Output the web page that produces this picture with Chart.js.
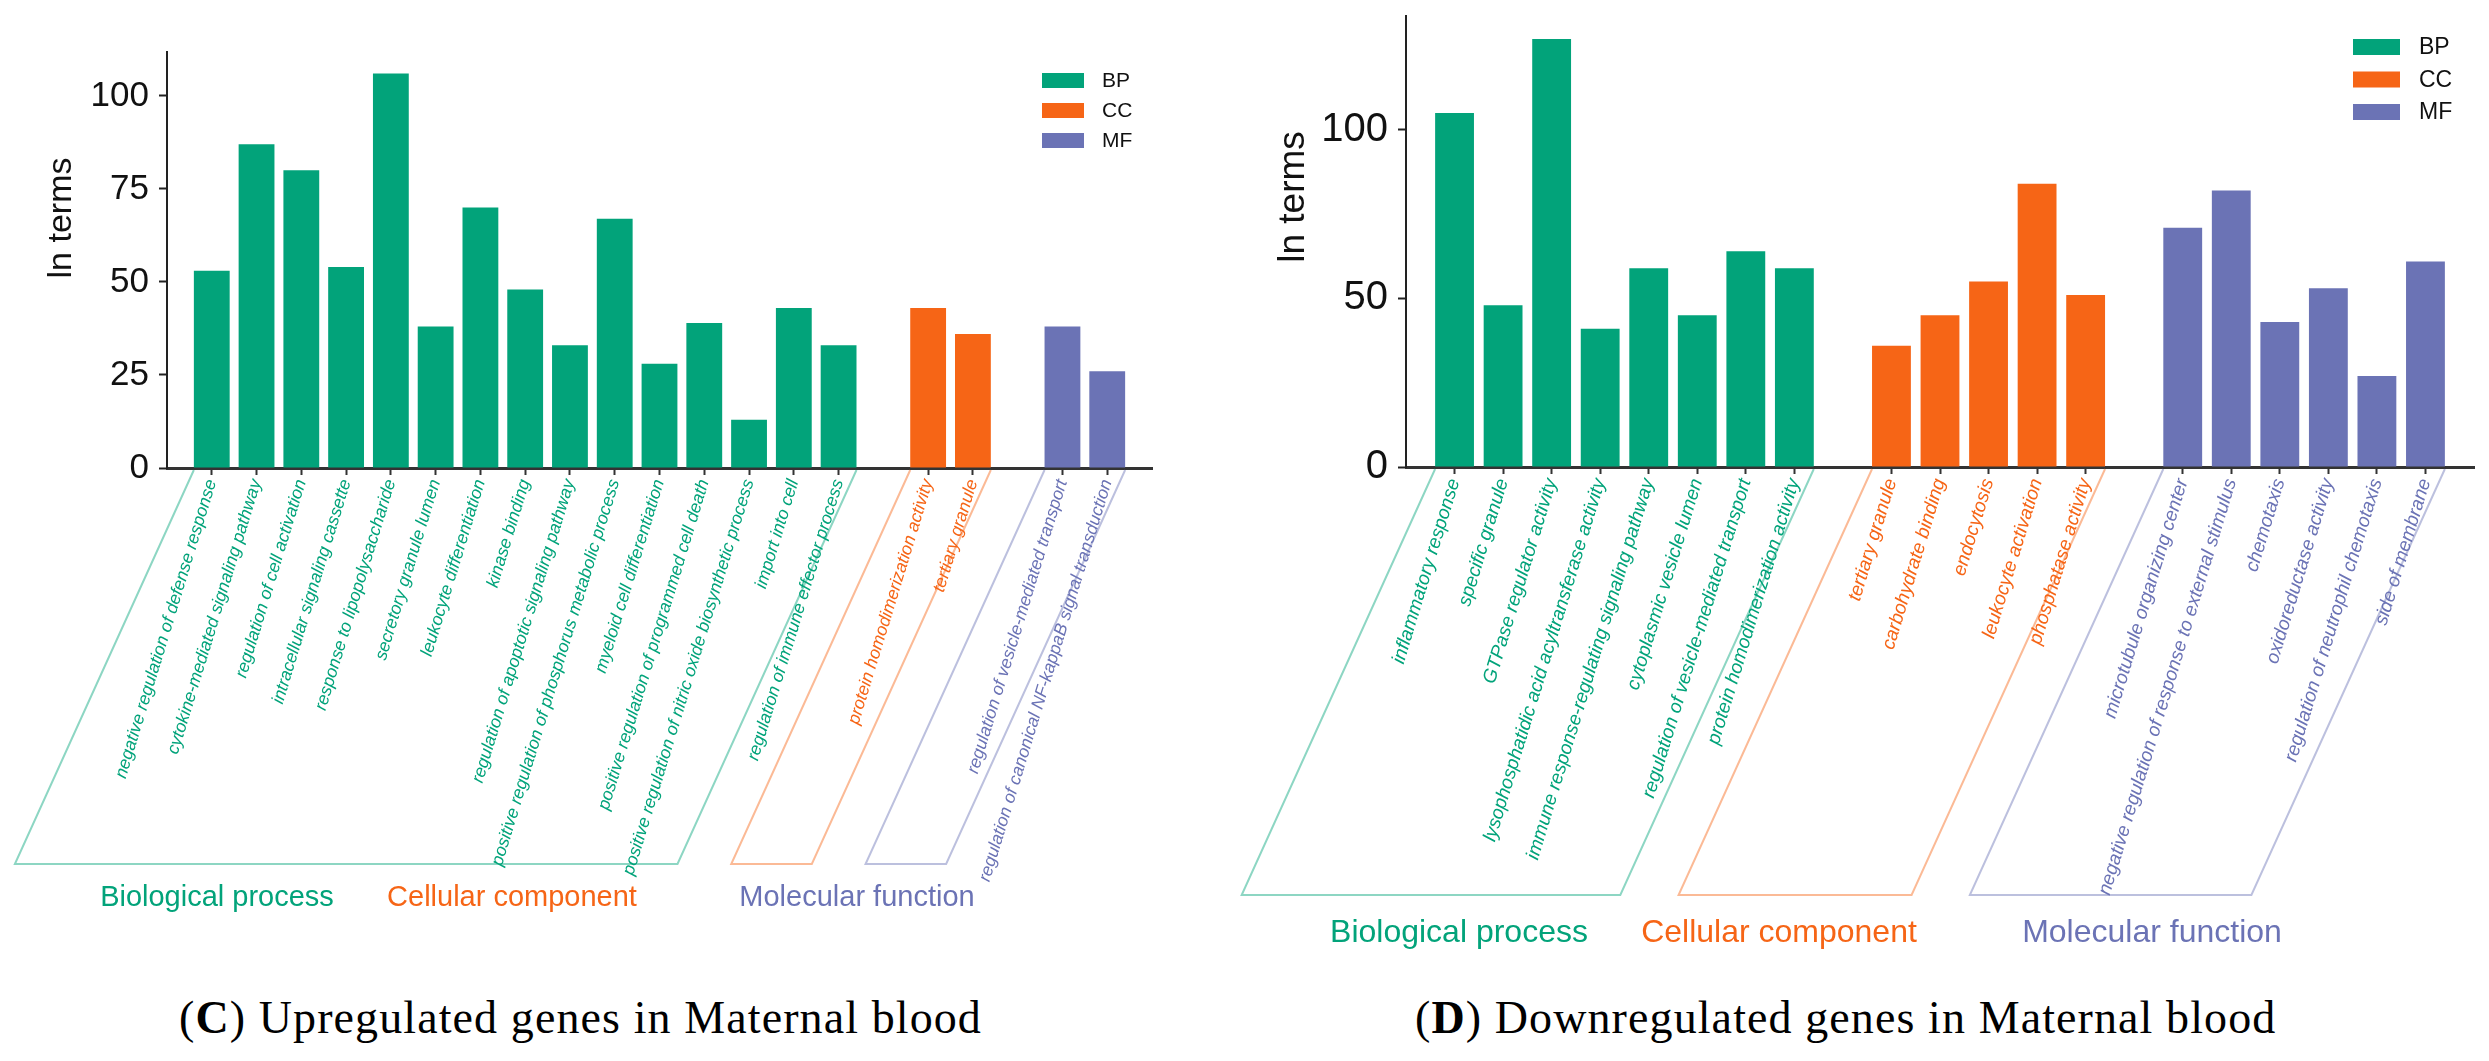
<!DOCTYPE html>
<html>
<head>
<meta charset="utf-8">
<script src="https://cdn.jsdelivr.net/npm/chart.js@4.4.0/dist/chart.umd.min.js"></script>
<style>
  body { margin: 0; background: #fff; width: 2489px; height: 1061px; overflow: hidden; position: relative; }
  #chartC { position: absolute; left: 0; top: 0; }
  #chartD { position: absolute; left: 1240px; top: 0; }
  .cap { position: absolute; top: 995px; font-family: "Liberation Serif", "Times New Roman", serif; font-size: 46px; line-height: 46px; letter-spacing: 1.1px; color: #000; white-space: nowrap; }
</style>
</head>
<body>
<canvas id="chartC" width="1240" height="960"></canvas>
<canvas id="chartD" width="1249" height="960"></canvas>
<div class="cap" style="left:179px">(<b>C</b>) Upregulated genes in Maternal blood</div>
<div class="cap" style="left:1415px">(<b>D</b>) Downregulated genes in Maternal blood</div>
<script>
// (C) upregulated genes
const upBPTerms = [
    'negative regulation of defense response',
    'cytokine-mediated signaling pathway',
    'regulation of cell activation',
    'intracellular signaling cassette',
    'response to lipopolysaccharide',
    'secretory granule lumen',
    'leukocyte differentiation',
    'kinase binding',
    'regulation of apoptotic signaling pathway',
    'positive regulation of phosphorus metabolic process',
    'myeloid cell differentiation',
    'positive regulation of programmed cell death',
    'positive regulation of nitric oxide biosynthetic process',
    'import into cell',
    'regulation of immune effector process'
];
const upBPCounts = [53, 87, 80, 54, 106, 38, 70, 48, 33, 67, 28, 39, 13, 43, 33];
const upCCTerms = ['protein homodimerization activity', 'tertiary granule'];
const upCCCounts = [43, 36];
const upMFTerms = ['regulation of vesicle-mediated transport', 'regulation of canonical NF-kappaB signal transduction'];
const upMFCounts = [38, 26];
const upYTicks = [0, 25, 50, 75, 100];

// (D) downregulated genes
const downBPTerms = [
    'inflammatory response',
    'specific granule',
    'GTPase regulator activity',
    'lysophosphatidic acid acyltransferase activity',
    'immune response-regulating signaling pathway',
    'cytoplasmic vesicle lumen',
    'regulation of vesicle-mediated transport',
    'protein homodimerization activity'
];
const downBPCounts = [105, 48, 127, 41, 59, 45, 64, 59];
const downCCTerms = ['tertiary granule', 'carbohydrate binding', 'endocytosis', 'leukocyte activation', 'phosphatase activity'];
const downCCCounts = [36, 45, 55, 84, 51];
const downMFTerms = [
    'microtubule organizing center',
    'negative regulation of response to external stimulus',
    'chemotaxis',
    'oxidoreductase activity',
    'regulation of neutrophil chemotaxis',
    'side of membrane'
];
const downMFCounts = [71, 82, 43, 53, 27, 61];
const downYTicks = [0, 50, 100];

const groupNames = ['BP', 'CC', 'MF'];
const groupTitles = ['Biological process', 'Cellular component', 'Molecular function'];
const colors = ['#02a37a', '#f66516', '#6b73b5'];
const bracketColors = ['rgba(2,163,122,0.45)', 'rgba(246,101,22,0.45)', 'rgba(107,115,181,0.45)'];

Chart.defaults.font.family = '"Liberation Sans", Arial, sans-serif';
Chart.defaults.color = '#111';

// one empty slot before, between and after the groups
function buildPanel(groups) {
    const labels = [''];
    const owner = [-1];
    const data = groups.map(() => [null]);
    groups.forEach((g, gi) => {
        g.terms.forEach((t, k) => {
            labels.push(t);
            owner.push(gi);
            data.forEach((d, di) => d.push(di === gi ? g.counts[k] : null));
        });
        labels.push('');
        owner.push(-1);
        data.forEach(d => d.push(null));
    });
    return { labels, owner, data };
}

const decor = {
    id: 'decor',
    afterDraw(chart, args, o) {
        const { ctx, chartArea } = chart;
        ctx.save();
        chart.data.datasets.forEach((ds, i) => {
            const bars = chart.getDatasetMeta(i).data.filter((b, k) => ds.data[k] !== null);
            const first = bars[0], last = bars[bars.length - 1];
            const x0 = first.x - first.width / 2;
            const x1 = last.x + last.width / 2;
            const y0 = chartArea.bottom + 2;
            const y1 = chartArea.bottom + o.depth;
            const dx = o.depth * 0.452;
            ctx.beginPath();
            ctx.moveTo(x0, y0);
            ctx.lineTo(x0 - dx, y1);
            ctx.lineTo(x1 - dx, y1);
            ctx.lineTo(x1, y0);
            ctx.strokeStyle = bracketColors[i];
            ctx.lineWidth = 2;
            ctx.stroke();

            ctx.fillStyle = colors[i];
            ctx.font = o.groupSize + 'px "Liberation Sans", Arial, sans-serif';
            ctx.textAlign = 'center';
            ctx.textBaseline = 'middle';
            ctx.fillText(groupTitles[i], o.groupX[i], o.groupY);

            // legend
            const ly = o.legY + i * o.legStep;
            ctx.fillRect(o.legX, ly, o.legW, o.legH);
            ctx.fillStyle = '#111';
            ctx.textAlign = 'left';
            ctx.font = o.legSize + 'px "Liberation Sans", Arial, sans-serif';
            ctx.fillText(ds.label, o.legTextX, ly + o.legH / 2 + 1);
        });
        ctx.translate(o.titleX, o.titleY);
        ctx.rotate(-Math.PI / 2);
        ctx.fillStyle = '#111';
        ctx.textAlign = 'center';
        ctx.textBaseline = 'middle';
        ctx.font = o.titleSize + 'px "Liberation Sans", Arial, sans-serif';
        ctx.fillText('ln terms', 0, 0);
        ctx.restore();
    }
};

function makeChart(id, panel, o) {
    const ctx = document.getElementById(id).getContext('2d');
    const hidden = 'rgba(0,0,0,0)';
    return new Chart(ctx, {
        type: 'bar',
        data: {
            labels: panel.labels,
            datasets: groupNames.map((name, i) => ({
                label: name,
                data: panel.data[i],
                backgroundColor: colors[i],
                borderWidth: 0,
                barPercentage: 0.8,
                categoryPercentage: 1,
                grouped: false
            }))
        },
        options: {
            responsive: false,
            animation: false,
            layout: { padding: { top: o.top, right: o.right, left: 0, bottom: 0 } },
            plugins: {
                legend: { display: false },
                tooltip: { enabled: false },
                decor: o
            },
            scales: {
                x: {
                    offset: false,
                    grid: {
                        display: true,
                        offset: false,
                        drawOnChartArea: false,
                        tickLength: 7,
                        tickWidth: 2,
                        tickColor: c => panel.owner[c.index] < 0 ? hidden : '#333'
                    },
                    border: { color: '#333', width: 3 },
                    ticks: {
                        autoSkip: false,
                        minRotation: 73,
                        maxRotation: 73,
                        padding: 2,
                        font: { size: o.labelSize, style: 'italic' },
                        color: c => panel.owner[c.index] < 0 ? hidden : colors[panel.owner[c.index]]
                    },
                    afterFit: s => {
                        s.height = o.xHeight;
                        s.paddingLeft = 0;
                        s.paddingRight = 0;
                    }
                },
                y: {
                    min: 0,
                    max: o.yMax,
                    afterBuildTicks: s => { s.ticks = o.yTicks.map(v => ({ value: v })); },
                    grid: { display: true, drawOnChartArea: false, tickLength: 8, tickWidth: 2, tickColor: '#222' },
                    border: { color: '#222', width: 2 },
                    ticks: { padding: 10, color: '#111', font: { size: o.tickSize } },
                    afterFit: s => {
                        s.width = o.yWidth;
                        s.paddingTop = 0;
                        s.paddingBottom = 0;
                    }
                }
            }
        },
        plugins: [decor]
    });
}

const panelC = buildPanel([
    { terms: upBPTerms, counts: upBPCounts },
    { terms: upCCTerms, counts: upCCCounts },
    { terms: upMFTerms, counts: upMFCounts }
]);
const panelD = buildPanel([
    { terms: downBPTerms, counts: downBPCounts },
    { terms: downCCTerms, counts: downCCCounts },
    { terms: downMFTerms, counts: downMFCounts }
]);

makeChart('chartC', panelC, {
    top: 52, right: 88, yWidth: 167, xHeight: 492, yMax: 111.8, yTicks: upYTicks,
    labelSize: 17.5, tickSize: 35, depth: 396,
    groupX: [217, 512, 857], groupY: 898, groupSize: 29,
    legX: 1042, legY: 73, legW: 42, legH: 15, legStep: 30, legTextX: 1102, legSize: 21,
    titleX: 62, titleY: 218, titleSize: 34
});
makeChart('chartD', panelD, {
    top: 16, right: 15, yWidth: 166, xHeight: 493, yMax: 133.8, yTicks: downYTicks,
    labelSize: 19, tickSize: 40, depth: 428,
    groupX: [219, 539, 912], groupY: 933, groupSize: 32,
    legX: 1113, legY: 39, legW: 47, legH: 16, legStep: 32.5, legTextX: 1179, legSize: 23,
    titleX: 54, titleY: 197, titleSize: 37
});
</script>
</body>
</html>
